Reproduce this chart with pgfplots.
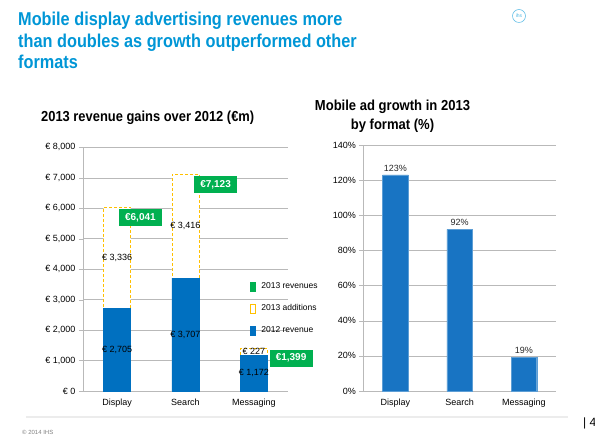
\documentclass[border=0pt]{standalone}
\usepackage{pgfplots}
\pgfplotsset{compat=1.18}
\usepackage{fontspec}
\setmainfont{Liberation Sans}
\definecolor{ihsblue}{RGB}{0,150,214}
\definecolor{barblue}{RGB}{0,112,192}
\definecolor{barblue2}{RGB}{24,116,195}
\definecolor{boxgreen}{RGB}{0,176,80}
\definecolor{dashy}{RGB}{255,192,0}
\definecolor{gridgray}{RGB}{185,185,185}
\begin{document}
\begin{tikzpicture}
% title
\node[anchor=base west, text=ihsblue, font=\fontsize{18.6}{21}\selectfont\bfseries, inner sep=0pt] at (18pt,420pt) {\scalebox{0.876}[1]{Mobile display advertising revenues more}};
\node[anchor=base west, text=ihsblue, font=\fontsize{18.6}{21}\selectfont\bfseries, inner sep=0pt] at (18pt,398.7pt) {\scalebox{0.876}[1]{than doubles as growth outperformed other}};
\node[anchor=base west, text=ihsblue, font=\fontsize{18.6}{21}\selectfont\bfseries, inner sep=0pt] at (18pt,377.7pt) {\scalebox{0.876}[1]{formats}};
% logo
\draw[ihsblue!60, line width=0.6pt] (519pt,430pt) circle (6.5pt);
\node[text=ihsblue!70, font=\fontsize{5}{5}\selectfont] at (519pt,430pt) {ihs};
% subtitles
\node[anchor=base west, font=\fontsize{14.5}{17}\selectfont\bfseries, inner sep=0pt] at (41pt,324.5pt) {\scalebox{0.89}[1]{2013 revenue gains over 2012 (€m)}};
\node[anchor=base, font=\fontsize{14.5}{17}\selectfont\bfseries, inner sep=0pt] at (392.5pt,335pt) {\scalebox{0.9}[1]{Mobile ad growth in 2013}};
\node[anchor=base, font=\fontsize{14.5}{17}\selectfont\bfseries, inner sep=0pt] at (392.5pt,316pt) {\scalebox{0.9}[1]{by format (\%)}};
% footer
\draw[gray!15, line width=1.5pt] (26pt,29pt) -- (568pt,29pt);
\node[anchor=west, text=gray, font=\fontsize{6}{6}\selectfont, inner sep=0pt] at (22pt,14pt) {© 2014 IHS};
\node[anchor=west, font=\fontsize{12}{12}\selectfont, inner sep=0pt] at (583pt,23pt) {| 4};

% left chart
\begin{axis}[at={(83pt,55pt)}, anchor=south west, scale only axis,
  width=205pt, height=243.7pt,
  ymin=0, ymax=8000, ytick={0,1000,...,8000},
  xmin=-0.5, xmax=2.5, xtick={0,1,2}, xticklabels={Display,Search,Messaging},
  extra x ticks={-0.5,0.5,1.5,2.5}, extra x tick labels={},
  extra x tick style={major tick length=4pt, tick style={gridgray}},
  x tick style={draw=none}, major tick length=4pt,
  axis x line*=bottom, axis y line*=left,
  axis line style={gridgray}, y tick style={gridgray},
  tick align=outside,
  ymajorgrids, grid style={gridgray},
  ybar, bar shift=0pt, bar width=27pt, clip=false,
  yticklabel={€ \pgfmathprintnumber{\tick}},
  /pgf/number format/1000 sep={,}, /pgf/number format/assume math mode=true,
  tick label style={font=\fontsize{9}{11}\selectfont},
  legend style={at={(0.80,0.462)}, anchor=north west, draw=none, fill=none,
    font=\fontsize{8.5}{10}\selectfont, row sep=10.5pt, legend cell align=left},
  legend image code/.code={\draw[#1, solid] (0pt,-4.5pt) rectangle (5pt,4.5pt); \path[draw=none, fill=none] (0pt,0pt) rectangle (9pt,0.1pt);},
]
\addlegendimage{fill=boxgreen, draw=boxgreen}
\addlegendentry{2013 revenues}
% 2013 totals = 2012 revenue + 2013 additions
\addplot[fill=white, draw=dashy, densely dashed] coordinates {(0,6041) (1,7123) (2,1399)};
\addlegendentry{2013 additions}
\addplot[fill=barblue, draw=barblue] coordinates {(0,2705) (1,3707) (2,1172)};
\addlegendentry{2012 revenue}
\begin{scope}[every node/.style={font=\fontsize{9}{11}\selectfont, inner sep=1pt}]
\node at (axis cs:0,1352) {€ 2,705};
\node at (axis cs:0,4373) {€ 3,336};
\node at (axis cs:1,1853) {€ 3,707};
\node at (axis cs:1,5415) {€ 3,416};
\node at (axis cs:2,586) {€ 1,172};
\node at (axis cs:2,1285) {€ 227};
\end{scope}
\begin{scope}[every node/.style={fill=boxgreen, text=white, font=\fontsize{10}{12}\selectfont\bfseries, minimum width=43pt, minimum height=17pt, inner sep=1pt}]
\node at (axis cs:0.34,5696) {€6,041};
\node at (axis cs:1.44,6763) {€7,123};
\node at (axis cs:2.545,1083) {€1,399};
\end{scope}
\end{axis}

% right chart
\begin{axis}[at={(363.3pt,55pt)}, anchor=south west, scale only axis,
  width=192.7pt, height=246pt,
  ymin=0, ymax=140, ytick={0,20,...,140},
  xmin=-0.5, xmax=2.5, xtick={0,1,2}, xticklabels={Display,Search,Messaging},
  extra x ticks={-0.5,0.5,1.5,2.5}, extra x tick labels={},
  extra x tick style={major tick length=4pt, tick style={gridgray}},
  x tick style={draw=none}, major tick length=4pt,
  axis x line*=bottom, axis y line*=left,
  axis line style={gridgray}, y tick style={gridgray},
  tick align=outside,
  ymajorgrids, grid style={gridgray},
  ybar, bar width=25.7pt, clip=false,
  yticklabel={\pgfmathprintnumber{\tick}\%},
  /pgf/number format/assume math mode=true,
  tick label style={font=\fontsize{9}{11}\selectfont},
  nodes near coords={\pgfmathprintnumber{\pgfplotspointmeta}\%},
  every node near coord/.append style={font=\fontsize{9}{11}\selectfont, text=black!85},
]
\addplot[fill=barblue2, draw=barblue2!70!white] coordinates {(0,123) (1,92) (2,19)};
\end{axis}
\pgfresetboundingbox
\path[use as bounding box] (0pt,0pt) rectangle (595pt,446pt);
\end{tikzpicture}
\end{document}
